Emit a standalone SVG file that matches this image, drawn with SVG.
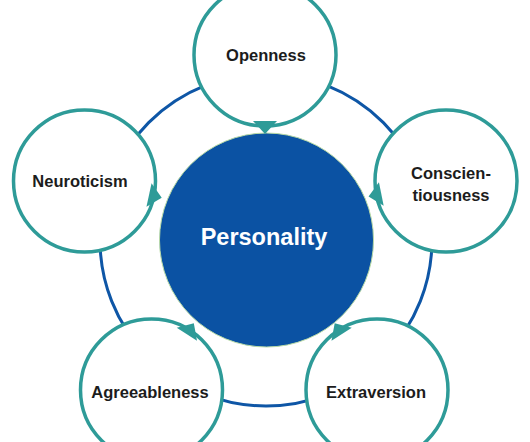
<svg xmlns="http://www.w3.org/2000/svg" width="530" height="442" viewBox="0 0 530 442">
<style>
.ring{fill:none;stroke:#0e56a6;stroke-width:3}
.node{fill:#fff;stroke:#2e9b98;stroke-width:3.5}
.ptr{fill:#2e9b98}
.lbl{font-family:"Liberation Sans",Arial,sans-serif;font-weight:bold;font-size:16.5px;fill:#1c1c1c;text-anchor:middle;dominant-baseline:central}
.core{font-family:"Liberation Sans",Arial,sans-serif;font-weight:bold;font-size:23.5px;fill:#fff;text-anchor:middle;dominant-baseline:central}
</style>
<defs>
<polygon id="tri" points="66,-12 79,0 66,12"/>
</defs>
<rect width="530" height="442" fill="#fff"/>
<g id="connectors">
<circle class="ring" cx="266" cy="240" r="166"/>
</g>
<g id="personality">
<circle cx="266.5" cy="240" r="107" fill="#0b52a3" stroke="#b9dba6" stroke-width="1"/>
<text class="core" x="264" y="237">Personality</text>
</g>
<g id="openness">
<circle class="node" cx="265" cy="55" r="71"/>
<use href="#tri" class="ptr" transform="translate(265,55) rotate(90)"/>
<text class="lbl" x="266" y="55">Openness</text>
</g>
<g id="conscientiousness">
<circle class="node" cx="446" cy="181" r="71"/>
<use href="#tri" class="ptr" transform="translate(446,181) rotate(168.6)"/>
<text class="lbl" x="451" y="173">Conscien-</text>
<text class="lbl" x="451" y="195">tiousness</text>
</g>
<g id="neuroticism">
<circle class="node" cx="84.5" cy="181" r="71"/>
<use href="#tri" class="ptr" transform="translate(84.5,181) rotate(12.2)"/>
<text class="lbl" x="80" y="181">Neuroticism</text>
</g>
<g id="agreeableness">
<circle class="node" cx="151.5" cy="390" r="71"/>
<use href="#tri" class="ptr" transform="translate(151.5,390) rotate(-57.6)"/>
<text class="lbl" x="150" y="392">Agreeableness</text>
</g>
<g id="extraversion">
<circle class="node" cx="377" cy="390" r="71"/>
<use href="#tri" class="ptr" transform="translate(377,390) rotate(-122.4)"/>
<text class="lbl" x="376" y="392">Extraversion</text>
</g>
</svg>
